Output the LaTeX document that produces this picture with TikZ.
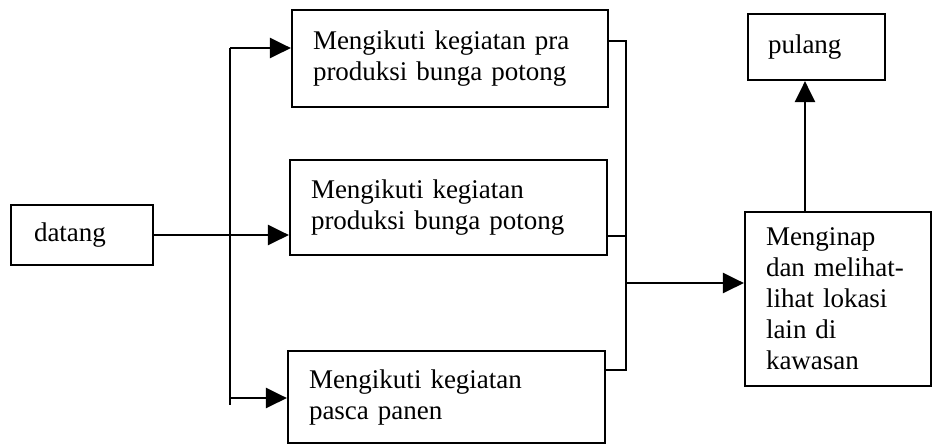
\documentclass[tikz,border=0pt]{standalone}
\usepackage{fontspec}
\setmainfont{Liberation Serif}
\usetikzlibrary{arrows.meta}
\begin{document}
\begin{tikzpicture}[x=0.5pt,y=-0.5pt,
  box/.style={draw,line width=1.1pt,rectangle,align=left,inner xsep=10.5pt,inner ysep=0pt,
    font=\fontsize{13.5}{15.5}\selectfont},
  conn/.style={line width=1.3pt},
  arr/.style={conn,-{Triangle[length=10.5pt,width=10pt]}}]
\useasboundingbox (0,0) rectangle (933,447);
% boxes
\node[box,text width=137pt,minimum height=48.5pt] (p1) at (450,58.5)
  {Mengikuti kegiatan pra\\produksi bunga potong};
\node[box,text width=137.5pt,minimum height=47.5pt] (p2) at (448.5,207.5)
  {Mengikuti kegiatan\\produksi bunga potong};
\node[box,text width=137.5pt,minimum height=46pt] (p3) at (446.5,397)
  {Mengikuti kegiatan\\pasca panen};
\node[box,text width=48pt,minimum height=30pt,inner xsep=11.5pt] (dt) at (82,235) {datang};
\node[box,text width=48.5pt,minimum height=33pt,inner xsep=10pt] (pl) at (816.5,47) {pulang};
\node[box,text width=72pt,minimum height=87pt] (mn) at (838,299)
  {Menginap\\dan melihat-\\lihat lokasi\\lain di\\kawasan};
% left branch
\coordinate (bt) at (230,48);
\coordinate (b3) at (230,398);
\coordinate (bb) at (230,405);
\draw[arr] (dt.east) -- (dt.east -| p2.west);
\draw[conn] (bt) -- (bb);
\draw[arr] (bt) -- (bt -| p1.west);
\draw[arr] (b3) -- (b3 -| p3.west);
% right merge
\coordinate (rt) at (626,41);
\coordinate (rm) at (626,236);
\coordinate (rb) at (626,370);
\coordinate (ra) at (626,283);
\draw[conn] (rt -| p1.east) -- (rt) -- (rb) -- (rb -| p3.east);
\draw[conn] (rm -| p2.east) -- (rm);
\draw[arr] (ra) -- (ra -| mn.west);
% up to pulang
\draw[arr] ([xshift=-16.5pt]mn.north) -- ([xshift=-16.5pt]mn.north |- pl.south);
\end{tikzpicture}
\end{document}
